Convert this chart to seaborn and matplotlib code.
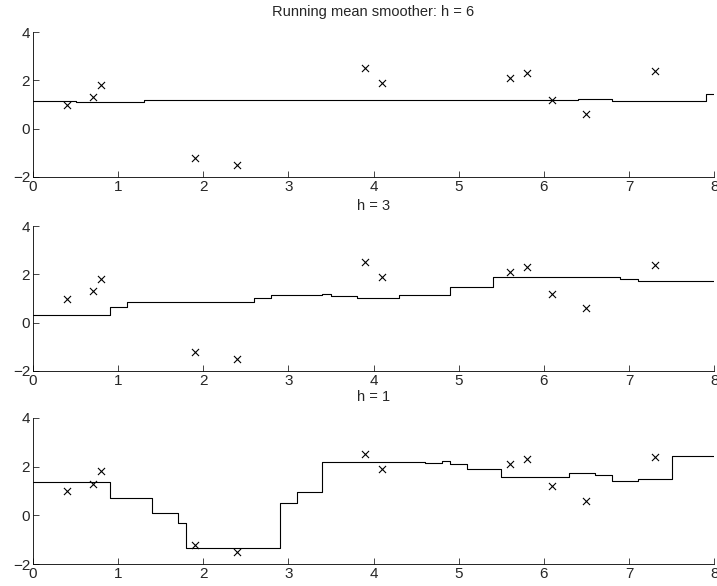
import numpy as np
import pandas as pd
import matplotlib
matplotlib.use("Agg")
import matplotlib.pyplot as plt
import seaborn as sns

# observed points (x marks), same in every panel
obs_x = [0.4, 0.7, 0.8, 1.9, 2.4, 3.9, 4.1, 5.6, 5.8, 6.1, 6.5, 7.3]
obs_y = [1.0, 1.3, 1.8, -1.2, -1.5, 2.5, 1.9, 2.1, 2.3, 1.2, 0.6, 2.4]

# running mean smoother, step breakpoints and levels
h6_x = [0, 0.5, 1.3, 6.4, 6.8, 7.9, 8]
h6_y = [1.16, 1.11, 1.21, 1.23, 1.16, 1.44, 1.44]

h3_x = [0, 0.9, 1.1, 2.6, 2.8, 3.4, 3.5, 3.8, 4.3, 4.9, 5.4, 6.9, 7.1, 8]
h3_y = [0.31, 0.66, 0.84, 1.01, 1.16, 1.18, 1.12, 1.02, 1.16, 1.48, 1.89, 1.80, 1.74, 1.74]

h1_x = [0, 0.9, 1.4, 1.7, 1.8, 2.9, 3.1, 3.4, 4.6, 4.8, 4.9, 5.1, 5.5, 6.3, 6.6, 6.8, 7.1, 7.5, 8]
h1_y = [1.37, 0.73, 0.10, -0.30, -1.36, 0.50, 0.97, 2.20, 2.16, 2.21, 2.10, 1.88, 1.57,
        1.73, 1.64, 1.40, 1.50, 2.42, 2.42]

titles = ["Running mean smoother: h = 6", "h = 3", "h = 1"]
xticks = [0, 1, 2, 3, 4, 5, 6, 7, 8]
yticks = [-2, 0, 2, 4]

sns.set_style("white")
plt.rcParams["font.family"] = ["Liberation Sans", "DejaVu Sans"]
plt.rcParams["xtick.direction"] = "in"
plt.rcParams["ytick.direction"] = "in"

fig = plt.figure(figsize=(7.17, 5.86), dpi=100)
# axes boxes [left, bottom, width, height] in figure fractions
boxes = [[0.046, 0.698, 0.950, 0.247],
         [0.046, 0.367, 0.950, 0.247],
         [0.046, 0.0375, 0.950, 0.2495]]

pts = pd.DataFrame({"x": obs_x, "y": obs_y})
smooths = [(h6_x, h6_y), (h3_x, h3_y), (h1_x, h1_y)]

for box, (sx, sy), title in zip(boxes, smooths, titles):
    ax = fig.add_axes(box)
    line = pd.DataFrame({"x": sx, "y": sy})
    sns.lineplot(data=line, x="x", y="y", ax=ax, color="black", linewidth=0.8,
                 drawstyle="steps-post", estimator=None, sort=False)
    sns.scatterplot(data=pts, x="x", y="y", ax=ax, marker="x", color="black",
                    s=26, linewidth=0.8)
    ax.set_xlim(0, 8)
    ax.set_ylim(-2, 4)
    ax.set_xticks(xticks)
    ax.set_yticks(yticks)
    ax.tick_params(labelsize=11, length=4, width=0.6, pad=2,
                   bottom=True, left=True)
    ax.set_xlabel("")
    ax.set_ylabel("")
    ax.set_title(title, fontsize=10.5, pad=12)
    sns.despine(ax=ax)
    for s in ["left", "bottom"]:
        ax.spines[s].set_linewidth(0.6)
        ax.spines[s].set_color("black")

fig.savefig("out.png", dpi=100)
